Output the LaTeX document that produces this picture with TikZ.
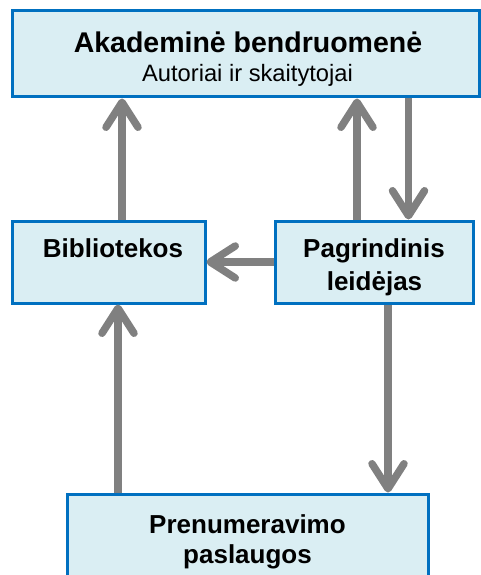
\documentclass[tikz,border=0pt]{standalone}
\usepackage{fontspec}
\setmainfont{Liberation Sans}
\usetikzlibrary{arrows.meta}
\definecolor{boxfill}{HTML}{DAEEF3}
\definecolor{boxline}{HTML}{0070C0}
\definecolor{arrgray}{HTML}{808080}
\begin{document}
\begin{tikzpicture}[x=1pt,y=-1pt,
  box/.style={draw=boxline, fill=boxfill, line width=3pt, inner sep=0pt, rectangle},
  lbl/.style={anchor=base, inner sep=0pt, font=\fontsize{26}{30}\selectfont\bfseries},
  arr/.style={draw=arrgray, line width=7.5pt, -{Straight Barb[round,length=25pt,width=32pt]}}]
\useasboundingbox (0,0) rectangle (481,575);
% boxes
\node[box, minimum width=467pt, minimum height=86pt] (top) at (245.5,54) {};
\node[box, minimum width=193pt, minimum height=82pt] (bib) at (108.5,262) {};
\node[box, minimum width=198pt, minimum height=82pt] (pub) at (374,262) {};
\node[box, minimum width=361pt, minimum height=110pt] (sub) at (247.5,549) {};
% texts
\node[lbl, font=\fontsize{28.5}{32}\selectfont\bfseries] (t1) at (248,53) {Akademinė bendruomenė};
\node[anchor=base, inner sep=0pt, font=\fontsize{23.7}{28}\selectfont] (t2) at (247.5,82) {Autoriai ir skaitytojai};
\node[lbl] (t3) at (113,257) {Bibliotekos};
\node[lbl] (t4) at (374,257) {Pagrindinis};
\node[lbl] (t5) at (374.5,290) {leidėjas};
\node[lbl] (t6) at (247.5,533) {Prenumeravimo};
\node[lbl] (t7) at (247.5,563) {paslaugos};
% x positions
\coordinate (xa) at (122,0);
\coordinate (xb) at (357,0);
\coordinate (xc) at (408.5,0);
\coordinate (xd) at (118,0);
\coordinate (xe) at (388,0);
\coordinate (ya) at (0,262);
% connectors
\draw[arr] (bib.north -| xa) -- (top.south -| xa);
\draw[arr] (pub.north -| xb) -- (top.south -| xb);
\draw[arr] (top.south -| xc) -- (pub.north -| xc);
\draw[arr] (pub.west |- ya) -- (bib.east |- ya);
\draw[arr] (sub.north -| xd) -- (bib.south -| xd);
\draw[arr] (pub.south -| xe) -- (sub.north -| xe);
\end{tikzpicture}
\end{document}
